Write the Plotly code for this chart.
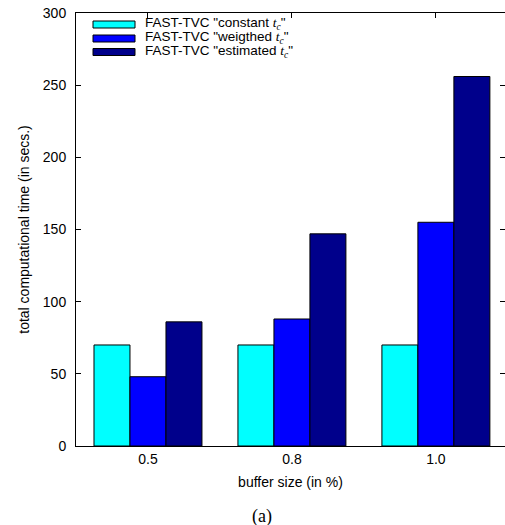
import plotly.graph_objects as go

categories = ["0.5", "0.8", "1.0"]
constant_tc = [70, 70, 70]
weighted_tc = [48, 88, 155]
estimated_tc = [86, 147, 256]
y_ticks = [0, 50, 100, 150, 200, 250, 300]

tc = '<i><span style="font-family:Liberation Serif">t</span></i><sub><i><span style="font-family:Liberation Serif">c</span></i></sub>'
series = [
    ('FAST-TVC "constant ' + tc + '"', constant_tc, "#00FFFF"),
    ('FAST-TVC "weigthed ' + tc + '"', weighted_tc, "#0000FF"),
    ('FAST-TVC "estimated ' + tc + '"', estimated_tc, "#00008B"),
]

fig = go.Figure()
for name, vals, col in series:
    fig.add_trace(go.Bar(x=categories, y=vals, name=name, marker=dict(color=col, line=dict(color="black", width=1)),
                         showlegend=False))

# invisible helper trace so the right-hand tick axis is drawn
fig.add_trace(go.Bar(x=categories, y=[0, 0, 0], yaxis="y2", showlegend=False, hoverinfo="skip",
                     marker=dict(color="rgba(0,0,0,0)", line=dict(width=0))))

font = "Liberation Sans, Arial, sans-serif"
fig.update_layout(
    width=505, height=525,
    margin=dict(l=76, r=0, t=13, b=79),
    paper_bgcolor="white", plot_bgcolor="white",
    barmode="group", bargap=0.25, bargroupgap=0,
    font=dict(family=font, size=14, color="black"),
    xaxis=dict(type="category", range=[-0.5, 2.48], showline=True, mirror="ticks", linecolor="black", linewidth=1,
               ticks="inside", ticklen=5, tickcolor="black", layer="below traces",
               showgrid=False, zeroline=False, tickfont=dict(size=14),
               title=dict(text="buffer size (in %)", font=dict(size=14), standoff=11)),
    yaxis=dict(range=[0, 300], tickvals=y_ticks, showline=True, linecolor="black", linewidth=1,
               ticks="inside", ticklen=5, tickcolor="black", showgrid=False, zeroline=False,
               tickfont=dict(size=14), ticklabelstandoff=6,
               title=dict(text="total computational time (in secs.)", font=dict(size=14), standoff=9)),
    yaxis2=dict(range=[0, 300], overlaying="y", side="right", tickvals=y_ticks, ticks="inside",
                ticklen=5, tickcolor="black", showticklabels=False, showline=False, showgrid=False, zeroline=False),
)

rows_y = [24.5, 38.5, 52]
for (name, vals, col), yy in zip(series, rows_y):
    fig.add_shape(type="rect", xref="paper", yref="paper",
                  x0=(93 - 76) / 429, x1=(135 - 76) / 429,
                  y0=1 - (yy - 13 + 3.5) / 433, y1=1 - (yy - 13 - 3.5) / 433,
                  fillcolor=col, line=dict(color="black", width=1))
    fig.add_annotation(text=name, xref="paper", yref="paper", x=(143 - 76) / 429, y=1 - (yy - 13 - 0.5) / 433,
                       xanchor="left", yanchor="middle", showarrow=False, font=dict(size=13.5, family=font))

fig.add_annotation(text="(a)", xref="paper", yref="paper", x=(262 - 76) / 429, y=-(516 - 446) / 433,
                   xanchor="center", yanchor="middle", showarrow=False,
                   font=dict(size=18, family="Liberation Serif, Times New Roman, serif"))

fig.write_html("out.html")
